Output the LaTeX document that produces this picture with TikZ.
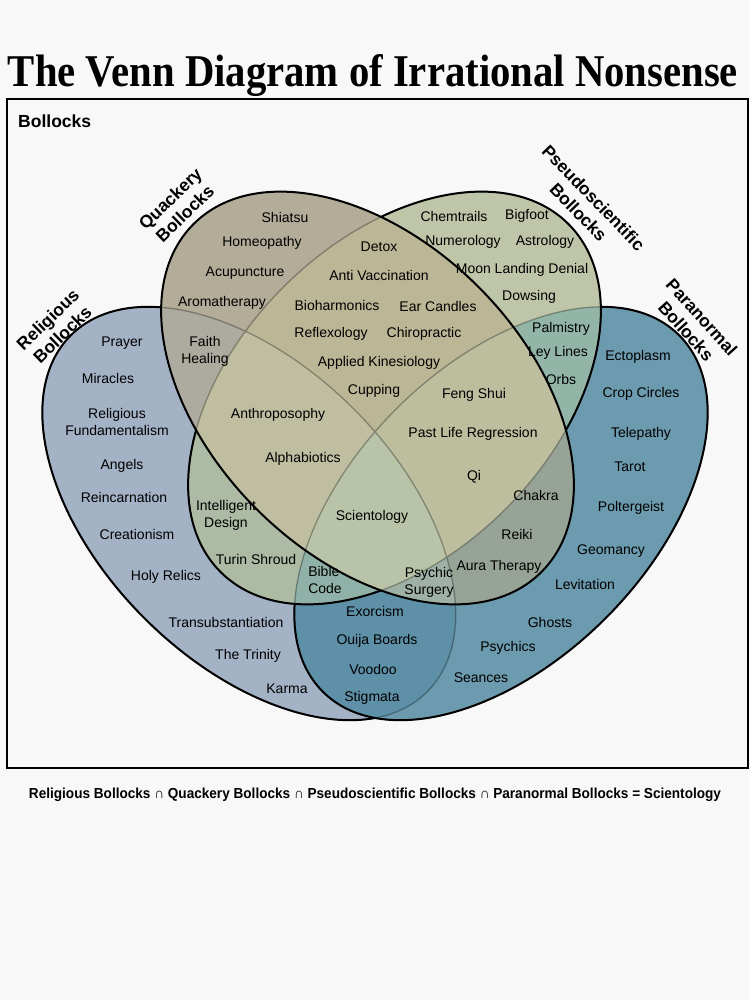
\documentclass[tikz,border=0pt]{standalone}
\usepackage{fontspec}
\setmainfont{Liberation Sans}
\newfontfamily\titlefont{Liberation Serif}

\definecolor{bgcol}{HTML}{F8F8F8}
\definecolor{rcol}{HTML}{A4B2C6}
\definecolor{qcol}{HTML}{B3AC98}
\definecolor{pcol}{HTML}{BEC5A8}
\definecolor{ncol}{HTML}{6C9AAE}
\definecolor{rqcol}{HTML}{ADAB9F}
\definecolor{rpcol}{HTML}{ADBBA4}
\definecolor{rncol}{HTML}{5E90A8}
\definecolor{qpcol}{HTML}{BBB696}
\definecolor{qncol}{HTML}{98A398}
\definecolor{pncol}{HTML}{93B5A8}
\definecolor{rqpcol}{HTML}{C0BEA0}
\definecolor{rqncol}{HTML}{9FB0A6}
\definecolor{rpncol}{HTML}{8FB1A8}
\definecolor{qpncol}{HTML}{BCBE9E}
\definecolor{allcol}{HTML}{B9C3A8}

% the four sets
\def\relpath{(249,513.5) ellipse [x radius=252, y radius=148, rotate=-45]}
\def\parpath{(501,513.5) ellipse [x radius=252, y radius=148, rotate=45]}
\def\quapath{(367.5,398) ellipse [x radius=246, y radius=157, rotate=-45]}
\def\psepath{(394.5,398) ellipse [x radius=246, y radius=157, rotate=45]}

\begin{document}
\begin{tikzpicture}[x=1pt, y=-1pt]
    \tikzstyle{entry} = [font=\fontsize{14}{17}\selectfont, align=center,
	inner sep=0pt]
    \tikzstyle{setname} = [font=\bfseries\fontsize{17.5}{21}\selectfont,
	align=center, inner sep=0pt]
    \tikzstyle{rim} = [line width=2pt]
    \tikzstyle{faded} = [line width=1.3pt, draw opacity=0.3]

	\useasboundingbox (0,0) rectangle (750,1000);
	\fill[bgcol] (0,0) rectangle (750,1000);

	% single sets
	\fill[rcol] \relpath;
	\fill[ncol] \parpath;
	\fill[pcol] \psepath;
	\fill[qcol] \quapath;

	% pairs
	\begin{scope} \clip \relpath; \fill[rqcol] \quapath; \end{scope}
	\begin{scope} \clip \relpath; \fill[rpcol] \psepath; \end{scope}
	\begin{scope} \clip \relpath; \fill[rncol] \parpath; \end{scope}
	\begin{scope} \clip \quapath; \fill[qpcol] \psepath; \end{scope}
	\begin{scope} \clip \quapath; \fill[qncol] \parpath; \end{scope}
	\begin{scope} \clip \psepath; \fill[pncol] \parpath; \end{scope}

	% triples
	\begin{scope} \clip \relpath; \clip \quapath; \fill[rqpcol] \psepath; \end{scope}
	\begin{scope} \clip \relpath; \clip \quapath; \fill[rqncol] \parpath; \end{scope}
	\begin{scope} \clip \relpath; \clip \psepath; \fill[rpncol] \parpath; \end{scope}
	\begin{scope} \clip \quapath; \clip \psepath; \fill[qpncol] \parpath; \end{scope}

	% all four
	\begin{scope}
		\clip \relpath; \clip \quapath; \clip \psepath;
		\fill[allcol] \parpath;
	\end{scope}

	% outlines: faded where covered, black elsewhere
	\draw[faded] \relpath \parpath \psepath;
	\begin{scope}[even odd rule]
		\clip (0,0) rectangle (750,1000) \quapath;
		\draw[rim] \psepath;
		\clip (0,0) rectangle (750,1000) \psepath;
		\draw[rim] \parpath;
		\clip (0,0) rectangle (750,1000) \parpath;
		\draw[rim] \relpath;
	\end{scope}
	\draw[rim] \quapath;

	\draw[rim] (7,99) rectangle (748,768);

	\path
		node[anchor=base] (title) at (373,87)
			{\resizebox{730pt}{32pt}{\titlefont\bfseries The Venn Diagram of Irrational Nonsense}}
		node[setname, anchor=west] (universe) at (18,121) {Bollocks}

		node[setname, rotate=44] (religious) at (55,327) {Religious\\Bollocks}
		node[setname, rotate=44] (quackery) at (177.5,206) {Quackery\\Bollocks}
		node[setname, rotate=-46] (pseudo) at (586,205) {Pseudoscientific\\Bollocks}
		node[setname, rotate=-48] (paranormal) at (694,324) {Paranormal\\Bollocks}

		% religious
		node[entry] (prayer) at (122,343) {Prayer}
		node[entry] (miracles) at (108,378) {Miracles}
		node[entry] (fundamentalism) at (117,422) {Religious\\Fundamentalism}
		node[entry] (angels) at (122,466) {Angels}
		node[entry] (reincarnation) at (124,497) {Reincarnation}
		node[entry] (creationism) at (137,534) {Creationism}
		node[entry] (relics) at (166,577) {Holy Relics}
		node[entry] (transubstantiation) at (226,622) {Transubstantiation}
		node[entry] (trinity) at (248,656) {The Trinity}
		node[entry] (karma) at (287,689) {Karma}

		% quackery
		node[entry] (shiatsu) at (285,217) {Shiatsu}
		node[entry] (homeopathy) at (262,243) {Homeopathy}
		node[entry] (acupuncture) at (245,273) {Acupuncture}
		node[entry] (aromatherapy) at (222,303) {Aromatherapy}
		node[entry] (faith) at (205,351) {Faith\\Healing}

		% quackery and pseudoscientific
		node[entry] (detox) at (379,247) {Detox}
		node[entry] (antivax) at (379,275) {Anti Vaccination}
		node[entry] (bioharmonics) at (337,305) {Bioharmonics}
		node[entry] (earcandles) at (438,306) {Ear Candles}
		node[entry] (reflexology) at (331,334) {Reflexology}
		node[entry] (chiropractic) at (424,334) {Chiropractic}
		node[entry] (kinesiology) at (379,363) {Applied Kinesiology}
		node[entry] (cupping) at (374,391) {Cupping}

		% pseudoscientific
		node[entry] (chemtrails) at (454,216) {Chemtrails}
		node[entry] (bigfoot) at (527,216) {Bigfoot}
		node[entry] (numerology) at (463,242) {Numerology}
		node[entry] (astrology) at (545,242) {Astrology}
		node[entry] (moonlanding) at (522,270) {Moon Landing Denial}
		node[entry] (dowsing) at (529,297) {Dowsing}
		node[entry] (palmistry) at (561,329) {Palmistry}
		node[entry] (leylines) at (558,353) {Ley Lines}
		node[entry] (orbs) at (561,379) {Orbs}

		% paranormal
		node[entry] (ectoplasm) at (638,357) {Ectoplasm}
		node[entry] (cropcircles) at (641,394) {Crop Circles}
		node[entry] (telepathy) at (641,434) {Telepathy}
		node[entry] (tarot) at (630,467) {Tarot}
		node[entry] (poltergeist) at (631,508) {Poltergeist}
		node[entry] (geomancy) at (611,551) {Geomancy}
		node[entry] (levitation) at (585,584) {Levitation}
		node[entry] (ghosts) at (550,622) {Ghosts}
		node[entry] (psychics) at (508,648) {Psychics}
		node[entry] (seances) at (481,678) {Seances}

		% overlaps with paranormal
		node[entry] (fengshui) at (474,395) {Feng Shui}
		node[entry] (pastlife) at (473,434) {Past Life Regression}
		node[entry] (qi) at (474,477) {Qi}
		node[entry] (chakra) at (536,495) {Chakra}
		node[entry] (reiki) at (517,534) {Reiki}
		node[entry] (aura) at (499,567) {Aura Therapy}
		node[entry] (surgery) at (429,582) {Psychic\\Surgery}
		node[entry] (exorcism) at (375,611) {Exorcism}
		node[entry] (ouija) at (377,641) {Ouija Boards}
		node[entry] (voodoo) at (373,669) {Voodoo}
		node[entry] (stigmata) at (372,698) {Stigmata}
		node[entry, align=left] (biblecode) at (325,580) {Bible\\Code}

		% overlaps with religious
		node[entry] (design) at (226,515) {Intelligent\\Design}
		node[entry] (shroud) at (256,559) {Turin Shroud}
		node[entry] (anthroposophy) at (278,415) {Anthroposophy}
		node[entry] (alphabiotics) at (303,459) {Alphabiotics}
		node[entry] (scientology) at (372,517) {Scientology}

		node[anchor=base] (caption) at (375,798)
			{\resizebox{692pt}{10.5pt}{\bfseries Religious Bollocks ∩ Quackery Bollocks ∩ Pseudoscientific Bollocks ∩ Paranormal Bollocks = Scientology}}
	;
\end{tikzpicture}
\end{document}
